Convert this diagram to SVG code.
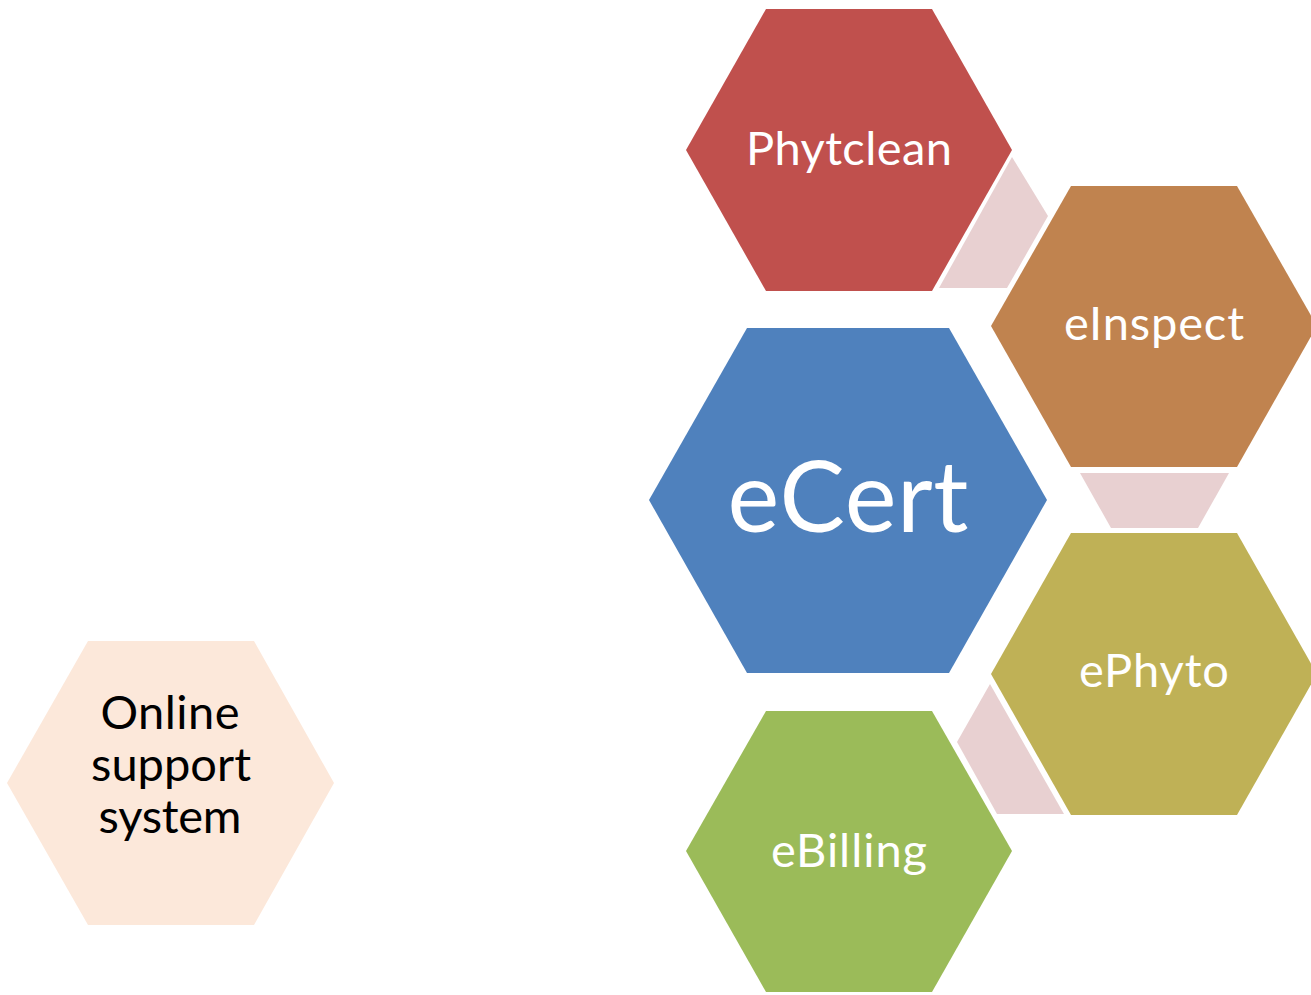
<svg xmlns="http://www.w3.org/2000/svg" width="1311" height="995" viewBox="0 0 1311 995">
<style>
.hex{stroke:none}
.conn{fill:#E8D0D1;stroke:none}
.lbl{font-family:Lato,"Open Sans","Noto Sans",sans-serif;font-size:47px;fill:#FFFFFF;text-anchor:middle}
.big{font-size:98px}
.dark{fill:#000000}
</style>
<rect x="0" y="0" width="1311" height="995" fill="#FFFFFF"/>
<g id="connectors">
<polygon class="conn" points="1012,157 1048,216 1007,288 939,288"/>
<polygon class="conn" points="1080,473 1229,473 1198,528 1111,528"/>
<polygon class="conn" points="990,684 957,742 997,814 1064,814"/>
</g>
<g id="phytclean">
<polygon class="hex" fill="#C0504D" points="766,9 932,9 1012,150 932,291 766,291 686,150"/>
<text class="lbl" x="849" y="165" textLength="206">Phytclean</text>
</g>
<g id="einspect">
<polygon class="hex" fill="#C0834F" points="1071,186 1237,186 1317,326 1237,467 1071,467 991,326"/>
<text class="lbl" x="1154" y="340" textLength="180">eInspect</text>
</g>
<g id="ecert">
<polygon class="hex" fill="#4F81BD" points="747,328 949,328 1047,500 949,673 747,673 649,500"/>
<text class="lbl big" x="848" y="532" textLength="241">eCert</text>
</g>
<g id="ephyto">
<polygon class="hex" fill="#BFB156" points="1071,533 1237,533 1317,674 1237,815 1071,815 991,674"/>
<text class="lbl" x="1154" y="687" textLength="150">ePhyto</text>
</g>
<g id="ebilling">
<polygon class="hex" fill="#9BBB59" points="766,711 932,711 1012,851 932,992 766,992 686,851"/>
<text class="lbl" x="849" y="867" textLength="156">eBilling</text>
</g>
<g id="online-support">
<polygon fill="#FCE8DA" points="88,641 254,641 334,783 254,925 88,925 7,783"/>
<text class="lbl dark" x="170" y="729" textLength="139">Online</text>
<text class="lbl dark" x="171" y="781" textLength="160">support</text>
<text class="lbl dark" x="170" y="833" textLength="143">system</text>
</g>
</svg>
